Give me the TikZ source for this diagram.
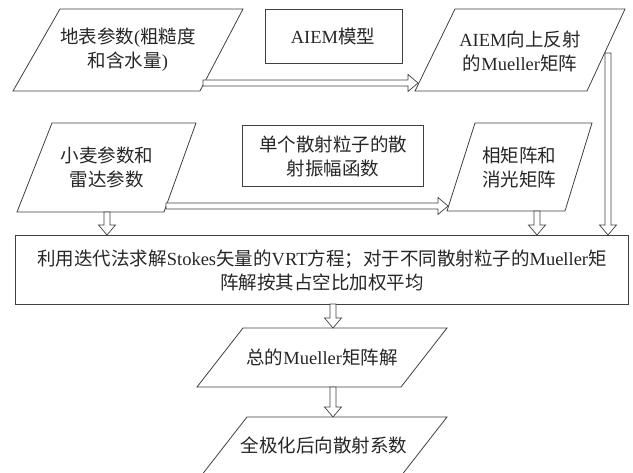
\documentclass[tikz,border=0pt]{standalone}
\usepackage{fontspec}
\setmainfont{Liberation Serif}
\newfontfamily\zh{Noto Sans CJK SC}
\usetikzlibrary{calc}
\newcommand\zz[1]{{\zh #1}}
\newcommand\arrowdown[2]{%
  \draw[hollow] let \p1=(#1), \p2=(#2) in
    (\x1-3pt,\y1) -- (\x1-3pt,\y2+10pt) -- (\x1-8.5pt,\y2+10pt) -- (\x1,\y2)
    -- (\x1+8.5pt,\y2+10pt) -- (\x1+3pt,\y2+10pt) -- (\x1+3pt,\y1) -- cycle;}
\newcommand\arrowright[2]{%
  \draw[hollow] let \p1=(#1), \p2=(#2) in
    (\x1,\y1+3pt) -- (\x2-10pt,\y1+3pt) -- (\x2-10pt,\y1+8.5pt) -- (\x2,\y1)
    -- (\x2-10pt,\y1-8.5pt) -- (\x2-10pt,\y1-3pt) -- (\x1,\y1-3pt) -- cycle;}
\begin{document}
\begin{tikzpicture}[x=1pt,y=-1pt,
  shp/.style={draw=black!75, line width=0.8pt},
  txt/.style={font=\fontsize{18.5}{24}\selectfont, align=center, inner sep=0pt, text=black!85},
  hollow/.style={draw=black!75, line width=0.7pt, fill=white}]
\useasboundingbox (0,0) rectangle (633,473);
\begin{scope}
\clip (0,0) rectangle (633,473);
% shapes
\draw[shp] (60,9) -- (243,9) -- (200,91) -- (13,91) -- cycle;
\draw[shp] (265,9) rectangle (402,63);
\draw[shp] (455,9) -- (625,9) -- (587,91) -- (415,91) -- cycle;
\draw[shp] (52,123) -- (196,123) -- (164,212) -- (17,212) -- cycle;
\draw[shp] (242,125) rectangle (423,186);
\draw[shp] (475,123) -- (592,123) -- (565,211) -- (447,211) -- cycle;
\draw[shp] (15,235) rectangle (628,304);
\draw[shp] (243,328) -- (447,328) -- (401,387) -- (197,387) -- cycle;
\draw[shp] (247,417) -- (447,417) -- (401,476) -- (201,476) -- cycle;
\end{scope}
% texts
\node[txt] (surf) at (128,50) {\zz{地表参数}(\zz{粗糙度}\\\zz{和含水量})};
\node[txt] (aiem) at (333,36) {AIEM\zz{模型}};
\node[txt] (refl) at (520,51) {AIEM\zz{向上反射}\\\zz{的}Mueller\zz{矩阵}};
\node[txt] (wheat) at (107,167) {\zz{小麦参数和}\\\zz{雷达参数}};
\node[txt] (amp) at (333,156) {\zz{单个散射粒子的散}\\\zz{射振幅函数}};
\node[txt] (phase) at (519,167) {\zz{相矩阵和}\\\zz{消光矩阵}};
\node[txt] (vrt) at (322,270) {\zz{利用迭代法求解}Stokes\zz{矢量的}VRT\zz{方程；对于不同散射粒子的}Mueller\zz{矩}\\\zz{阵解按其占空比加权平均}};
\node[txt] (total) at (322,357) {\zz{总的}Mueller\zz{矩阵解}};
\node[txt] (sigma) at (324,445) {\zz{全极化后向散射系数}};
% connector end points
\coordinate (a1s) at (203,83);  \coordinate (a1e) at (418,83);
\coordinate (a2s) at (166,206); \coordinate (a2e) at (448,206);
\coordinate (a3s) at (608,53);  \coordinate (a3e) at (608,235);
\coordinate (a4s) at (107,212); \coordinate (a4e) at (107,235);
\coordinate (a5s) at (537,211); \coordinate (a5e) at (537,235);
\coordinate (a6s) at (333,304); \coordinate (a6e) at (333,328);
\coordinate (a7s) at (333,387); \coordinate (a7e) at (333,417);
% connectors
\arrowright{a1s}{a1e}
\arrowright{a2s}{a2e}
\arrowdown{a3s}{a3e}
\arrowdown{a4s}{a4e}
\arrowdown{a5s}{a5e}
\arrowdown{a6s}{a6e}
\arrowdown{a7s}{a7e}
\end{tikzpicture}
\end{document}
